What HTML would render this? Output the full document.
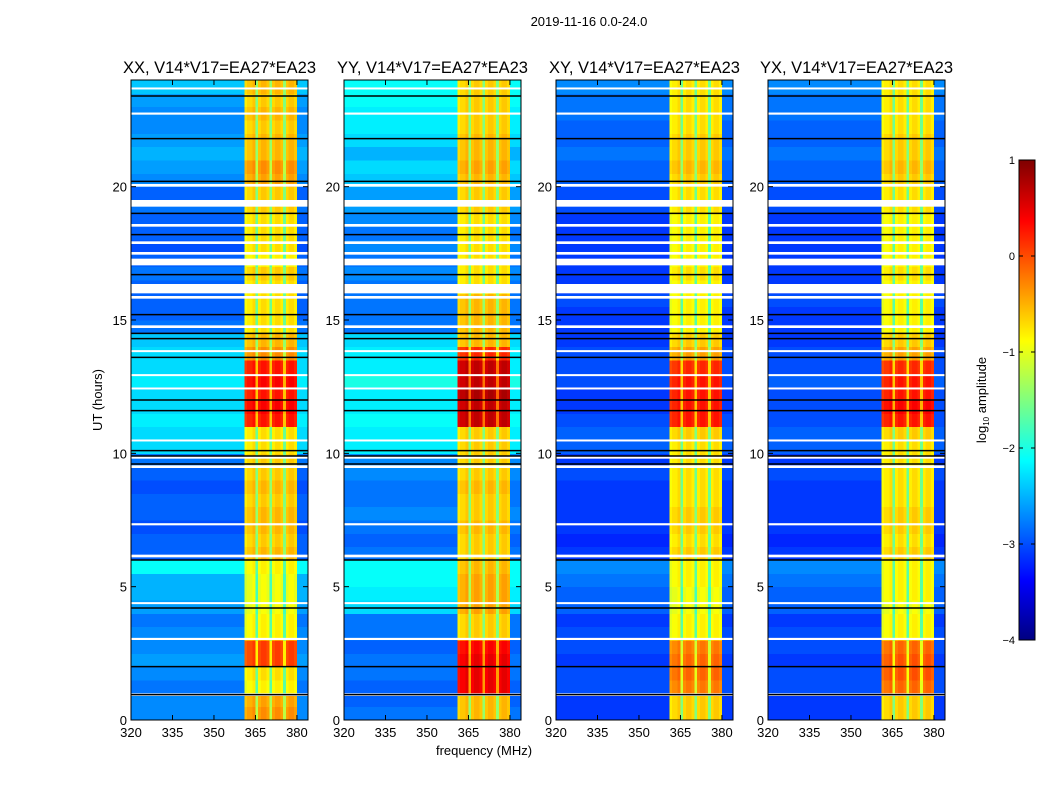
<!DOCTYPE html>
<html><head><meta charset="utf-8"><style>
body{margin:0;background:#fff;font-family:"Liberation Sans",sans-serif}
svg text{font-family:"Liberation Sans",sans-serif;fill:#000}
</style></head><body>
<svg id="fig" width="1050" height="800" viewBox="0 0 1050 800" xmlns="http://www.w3.org/2000/svg">
<rect width="1050" height="800" fill="#fff"/>
<text x="589" y="26" font-size="13" text-anchor="middle">2019-11-16 0.0-24.0</text>
<text transform="translate(102,400) rotate(-90)" font-size="13" text-anchor="middle">UT (hours)</text>
<text x="484" y="755" font-size="13" text-anchor="middle">frequency (MHz)</text>
<text transform="translate(986,400) rotate(-90)" font-size="13" text-anchor="middle">log<tspan font-size="8" dy="3">10</tspan><tspan dy="-3"> amplitude</tspan></text>
<g id="panels"></g>
<g id="cbar"></g>
</svg>
<script>
// ---- data ----
const panelNames = ["XX","YY","XY","YX"];
const baselineLabel = "V14*V17=EA27*EA23";
const xTicks = [320,335,350,365,380];
const yTicks = [0,5,10,15,20];
const cbarTicks = [-4,-3,-2,-1,0,1];
const freqBins = [];
for (let f = 320; f < 384; f++) freqBins.push(f);
const bandOffset = {361:-0.1,362:0,363:0,364:0.1,365:-0.8,366:0,367:0.1,368:0.1,369:0,370:-0.8,371:0,372:0.1,373:0.1,374:0,375:-0.8,376:0,377:0.1,378:0.1,379:0};
const bgXX = [-2.7,-2.7,-2.8,-2.7,-2.6,-2.7,-2.7,-2.8,-2.6,-2.5,-2.5,-2.1,-2.9,-2.9,-3.0,-2.9,-2.9,-3.0,-2.9,-2.8,-2.3,-2.3,-2.2,-2.3,-2.3,-2.2,-2.3,-2.3,-2.4,-2.8,-2.9,-2.9,-2.9,-2.8,-2.9,-3.0,-2.9,-2.9,-2.8,-2.9,-2.7,-2.6,-2.5,-2.6,-2.7,-2.7,-2.6,-2.4];
const bandXX = [-0.4,-0.5,-0.9,-0.8,0.0,0.0,-0.9,-0.9,-1.0,-1.0,-1.0,-0.9,-0.6,-0.7,-0.6,-0.6,-0.7,-0.6,-0.7,-0.7,-0.8,-0.8,0.2,0.3,0.2,0.3,0.2,-0.4,-0.6,-0.8,-0.8,-0.8,-0.8,-0.7,-0.9,-0.8,-0.8,-0.8,-0.7,-0.7,-0.5,-0.4,-0.6,-0.6,-0.7,-0.6,-0.7,-0.6];
const bgYY = [-2.8,-2.9,-2.9,-2.8,-2.8,-2.9,-2.8,-2.8,-2.3,-2.2,-2.1,-2.1,-2.8,-2.9,-2.8,-2.7,-2.8,-2.8,-2.7,-2.7,-2.2,-2.2,-2.1,-2.2,-2.2,-2.0,-2.2,-2.2,-2.3,-2.8,-2.8,-2.8,-2.8,-2.7,-2.8,-2.7,-2.8,-2.7,-2.6,-2.6,-2.4,-2.3,-2.5,-2.3,-2.2,-2.2,-2.1,-2.1];
const bandYY = [-0.6,-0.6,0.4,0.4,0.4,0.3,-0.7,-0.7,-0.5,-0.5,-0.5,-0.6,-0.7,-0.7,-0.6,-0.7,-0.7,-0.6,-0.7,-0.7,-0.7,-0.7,0.6,0.6,0.7,0.6,0.6,0.1,-0.6,-0.6,-0.6,-0.6,-0.8,-0.8,-0.8,-0.8,-0.8,-0.8,-0.7,-0.7,-0.6,-0.5,-0.6,-0.6,-0.7,-0.7,-0.7,-0.7];
const bgXY = [-3.1,-3.1,-3.0,-3.0,-3.1,-3.0,-3.0,-3.1,-2.9,-2.9,-2.8,-2.7,-3.1,-3.2,-3.1,-3.1,-3.1,-3.1,-3.0,-3.1,-2.9,-2.9,-3.0,-3.1,-3.1,-3.0,-3.0,-3.0,-3.1,-3.1,-3.1,-3.0,-3.1,-3.1,-3.1,-3.1,-3.1,-3.1,-3.0,-3.0,-2.9,-2.9,-2.8,-2.9,-2.9,-2.8,-2.8,-2.7];
const bandXY = [-0.7,-0.7,-0.3,-0.2,-0.2,-0.3,-0.9,-0.9,-1.0,-1.0,-0.9,-0.9,-0.7,-0.8,-0.7,-0.7,-0.8,-0.8,-0.8,-0.8,-0.8,-0.7,0.2,0.2,0.2,0.2,0.1,-0.5,-0.7,-0.9,-0.9,-0.9,-0.9,-0.8,-0.9,-0.9,-0.9,-0.9,-0.8,-0.8,-0.7,-0.6,-0.7,-0.7,-0.8,-0.8,-0.8,-0.8];
const bgYX = [-3.1,-3.1,-3.0,-3.0,-3.1,-3.0,-3.0,-3.1,-2.9,-2.9,-2.8,-2.7,-3.1,-3.2,-3.1,-3.1,-3.1,-3.1,-3.0,-3.1,-2.9,-2.9,-3.0,-3.0,-3.0,-2.9,-3.0,-3.0,-3.1,-3.1,-3.1,-3.0,-3.1,-3.1,-3.1,-3.1,-3.1,-3.1,-3.0,-3.0,-2.9,-2.9,-2.8,-2.9,-2.9,-2.8,-2.8,-2.7];
const bandYX = [-0.7,-0.7,-0.2,-0.1,-0.1,-0.2,-0.9,-0.9,-1.0,-0.9,-0.9,-0.9,-0.7,-0.8,-0.7,-0.7,-0.8,-0.8,-0.8,-0.8,-0.8,-0.7,0.2,0.3,0.2,0.2,0.1,-0.5,-0.7,-0.9,-0.9,-0.9,-0.9,-0.8,-0.9,-0.9,-0.9,-0.9,-0.8,-0.8,-0.7,-0.6,-0.7,-0.7,-0.8,-0.8,-0.8,-0.8];
const bgAll = [bgXX,bgYY,bgXY,bgYX];
const bandAll = [bandXX,bandYY,bandXY,bandYX];
const flagStart = [0.9,3.0,4.35,6.1,7.3,9.45,9.8,10.45,12.4,12.9,13.8,14.7,15.8,16.0,17.05,17.45,17.85,18.5,19.25,20.0,22.7,23.65];
const flagEnd   = [1.0,3.08,4.42,6.2,7.38,9.55,9.88,10.52,12.47,12.97,13.87,14.8,15.9,16.35,17.3,17.55,17.95,18.6,19.5,20.1,22.78,23.72];
const darkLines = [0.95,2.0,4.2,6.0,9.6,9.9,10.1,11.6,12.0,13.6,14.3,14.5,15.2,16.7,18.2,19.0,20.2,21.8,23.4];
// ---- layout ----
const panelLeft = [131,344,556,768];
const pw = 177, axTop = 80, axBot = 720;
const ns = "http://www.w3.org/2000/svg";
function mk(tag, attrs, parent){const e=document.createElementNS(ns,tag);for(const k in attrs)e.setAttribute(k,attrs[k]);parent.appendChild(e);return e;}
function jet(v){let t=(v+4)/5;t=Math.max(0,Math.min(1,t));
 const r=Math.max(0,Math.min(1,1.5-Math.abs(4*t-3))),g=Math.max(0,Math.min(1,1.5-Math.abs(4*t-2))),b=Math.max(0,Math.min(1,1.5-Math.abs(4*t-1)));
 return `rgb(${Math.round(r*255)},${Math.round(g*255)},${Math.round(b*255)})`;}
const fMin=320,fMax=384,tMin=0,tMax=24;
const panelsG=document.getElementById('panels');
panelNames.forEach((name,p)=>{
 const x0=panelLeft[p];
 const xs=f=>x0+(f-fMin)/(fMax-fMin)*pw;
 const ys=t=>axBot-(t-tMin)/(tMax-tMin)*(axBot-axTop);
 const g=mk('g',{},panelsG);
 
 
 const hm=mk('g',{'shape-rendering':'crispEdges'},g);
 
 
 const bg=bgAll[p],band=bandAll[p];
 for(let i=0;i<bg.length;i++){
  const t0=i*0.5,t1=t0+0.5;
  freqBins.forEach(f=>{
   const off=bandOffset[f];
   const v=(off===undefined)?bg[i]:band[i]+off;
   const r=mk('rect',{x:xs(f),y:ys(t1),width:xs(f+1)-xs(f)+0.5,height:ys(t0)-ys(t1)+0.5,fill:jet(v)},hm);
   
   
  });
 }
 flagStart.forEach((s,k)=>{
  const r=mk('rect',{x:x0,y:ys(flagEnd[k]),width:pw,height:Math.max(2,ys(s)-ys(flagEnd[k])),fill:'#fff'},g);
  
  
 });
 darkLines.forEach(t=>{
  const l=mk('line',{x1:x0,x2:x0+pw,y1:ys(t),y2:ys(t),stroke:'#000','stroke-width':1.5},g);
  
  
 });
 const fr=mk('rect',{x:x0,y:axTop,width:pw,height:axBot-axTop,fill:'none',stroke:'#000','stroke-width':1},g);
 
 
 const tt=mk('text',{x:x0+pw/2,y:73,'font-size':16.5,'text-anchor':'middle'},g);
 tt.textContent=name+', '+baselineLabel;
 
 
 xTicks.forEach(v=>{
  const x=xs(v);
  mk('line',{x1:x,x2:x,y1:axBot,y2:axBot-5,stroke:'#000'},g);
  mk('line',{x1:x,x2:x,y1:axTop,y2:axTop+5,stroke:'#000'},g);
  const t=mk('text',{x:x,y:737,'font-size':13,'text-anchor':'middle'},g);
  t.textContent=v;
  
  
 });
 yTicks.forEach(v=>{
  const y=ys(v);
  mk('line',{x1:x0,x2:x0+5,y1:y,y2:y,stroke:'#000'},g);
  mk('line',{x1:x0+pw,x2:x0+pw-5,y1:y,y2:y,stroke:'#000'},g);
  const t=mk('text',{x:x0-4,y:y+5,'font-size':13,'text-anchor':'end'},g);
  t.textContent=v;
  
  
 });
});
const cb=document.getElementById('cbar');


const cbx=1019,cbw=16,cbTop=160,cbBot=640;
const cy=v=>cbBot-(v+4)/5*(cbBot-cbTop);
for(let k=0;k<240;k++){const v=-4+5*k/240;mk('rect',{x:cbx,y:cy(v+5/240),width:cbw,height:(cbBot-cbTop)/240+0.6,fill:jet(v+2.5/240),'shape-rendering':'crispEdges'},cb);}
mk('rect',{x:cbx,y:cbTop,width:cbw,height:cbBot-cbTop,fill:'none',stroke:'#000'},cb);
cbarTicks.forEach(v=>{
 const y=cy(v);
 mk('line',{x1:cbx,x2:cbx+4,y1:y,y2:y,stroke:'#000'},cb);
 mk('line',{x1:cbx+cbw,x2:cbx+cbw-4,y1:y,y2:y,stroke:'#000'},cb);
 const t=mk('text',{x:cbx-4,y:y+4,'font-size':11,'text-anchor':'end'},cb);
 t.textContent=v<0?'\u2212'+(-v):v;
 
 
});
</script>
</body></html>
